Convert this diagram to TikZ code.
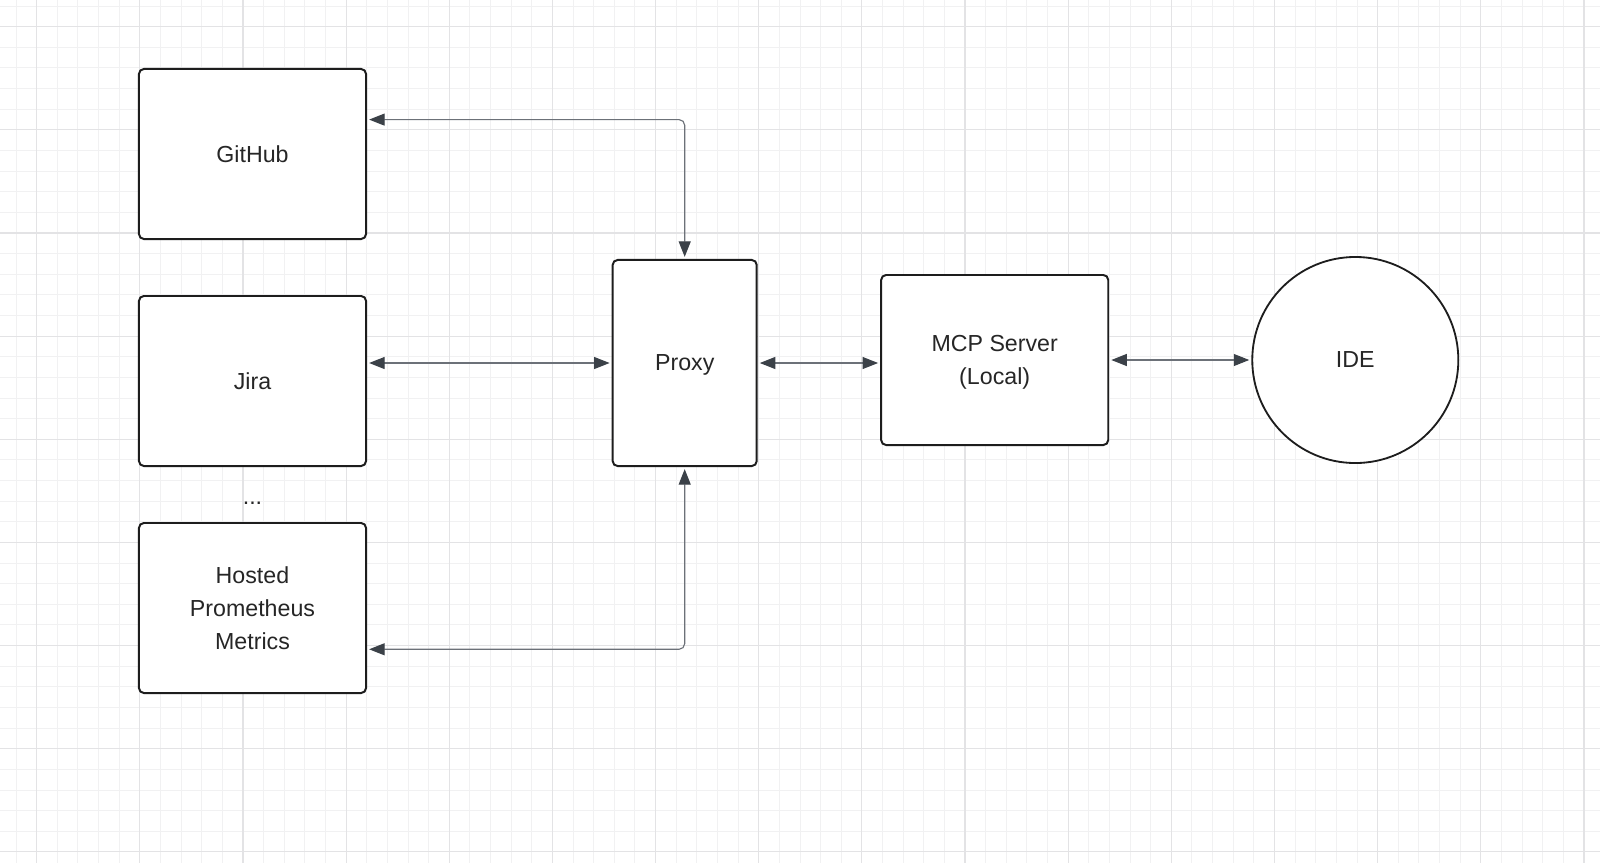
\documentclass[tikz,border=0pt]{standalone}
\usepackage{fontspec}
\setmainfont{Liberation Sans}
\usetikzlibrary{arrows.meta, calc}

\definecolor{minorgrid}{HTML}{F1F1F2}
\definecolor{majorgrid}{HTML}{E3E3E5}
\definecolor{linkgray}{HTML}{6C7178}
\definecolor{tipgray}{HTML}{3B4148}
\definecolor{boxline}{HTML}{1D1D1D}

\begin{document}
\begin{tikzpicture}[x=0.025cm, y=-0.025cm,
    box/.style={draw=boxline, line width=1.4pt, rounded corners=3.5pt, fill=white,
        align=center, text=black!85, text depth=0pt, font=\fontsize{16.5}{23.5}\selectfont},
    wide/.style={box, minimum width=5.675cm, minimum height=4.25cm},
    tall/.style={box, minimum width=3.6cm, minimum height=5.15cm},
    ring/.style={draw=boxline, line width=1.3pt, circle, fill=white, minimum size=5.15cm,
        text=black!85, font=\fontsize{16.5}{23.5}\selectfont},
    link/.style={draw=linkgray, line width=0.8pt, rounded corners=4pt,
        {Triangle[length=11pt, width=8.5pt, color=tipgray]}-{Triangle[length=11pt, width=8.5pt, color=tipgray]},
        shorten <=1.5pt, shorten >=1.5pt}]
    % Define dimensions
    \def\pagewidth{1600}
    \def\pageheight{863}
    \def\spacing{20.63}
    \useasboundingbox (0,0) rectangle (\pagewidth,\pageheight);
    \fill[white] (0,0) rectangle (\pagewidth,\pageheight);
    % Draw grid paper
    \begin{scope}
        \clip (0,0) rectangle (\pagewidth,\pageheight);
        % Minor grid lines
        \foreach \i in {0,1,...,76}
            \draw[minorgrid, line width=0.7pt] ({16.07+\i*\spacing},0) -- ({16.07+\i*\spacing},\pageheight);
        \foreach \j in {0,1,...,41}
            \draw[minorgrid, line width=0.7pt] (0,{6.07+\j*\spacing}) -- (\pagewidth,{6.07+\j*\spacing});
        % Major grid lines
        \foreach \i in {0,1,...,15}
            \draw[majorgrid, line width=0.8pt] ({36.7+5*\i*\spacing},0) -- ({36.7+5*\i*\spacing},\pageheight);
        \foreach \j in {0,1,...,8}
            \draw[majorgrid, line width=0.8pt] (0,{26.7+5*\j*\spacing}) -- (\pagewidth,{26.7+5*\j*\spacing});
    \end{scope}
    % Sources on the left
    \node[wide] (github) at (252.5,154) {GitHub};
    \node[wide] (jira) at (252.5,381) {Jira};
    \node[text=black!85, font=\fontsize{16.5}{23.5}\selectfont] (more) at (252.5,503) {...};
    \node[wide] (hosted) at (252.5,608) {Hosted\\Prometheus\\Metrics};
    % Middle and right
    \node[tall] (proxy) at (684.7,363) {Proxy};
    \node[wide] (mcp) at (994.7,360) {MCP Server\\(Local)};
    \node[ring] (ide) at (1355.3,360) {IDE};
    % Connectors
    \draw[link] (proxy.north) |- ($(github.north east)!0.3!(github.south east)$);
    \draw[link] (proxy.west -| jira.east) -- (proxy.west);
    \draw[link] (proxy.south) |- ($(hosted.north east)!0.74!(hosted.south east)$);
    \draw[link] (proxy.east) -- (proxy.east -| mcp.west);
    \draw[link] (mcp.east) -- (ide.west);
\end{tikzpicture}
\end{document}
